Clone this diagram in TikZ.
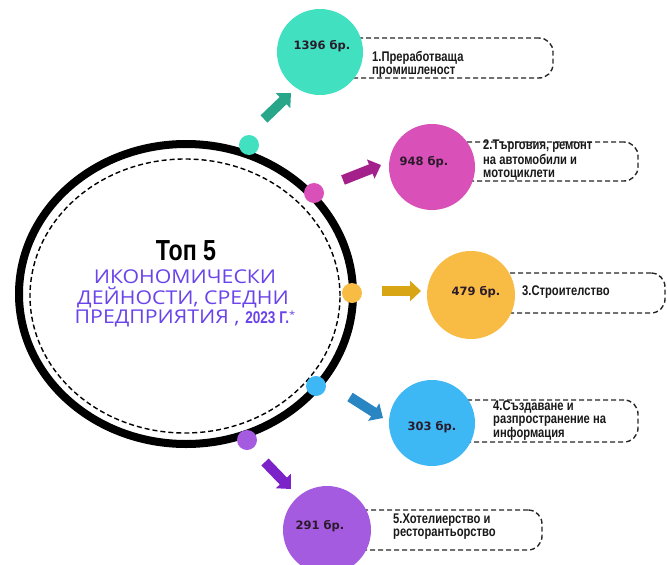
\documentclass[tikz,border=0pt]{standalone}
\usepackage{fontspec}
\setmainfont{Fira Sans}
\newfontfamily\condfont[FakeStretch=0.8]{Liberation Sans}
\newfontfamily\numfont{DejaVu Sans}
\newfontfamily\violetfont[FakeStretch=1.12]{Open Sans}
\usetikzlibrary{arrows.meta,shapes.geometric}
\definecolor{cteal}{HTML}{40E0C0}
\definecolor{cmag}{HTML}{D850B8}
\definecolor{corange}{HTML}{F8BC45}
\definecolor{cblue}{HTML}{3DB8F5}
\definecolor{cpurple}{HTML}{A55BE0}
\definecolor{ateal}{HTML}{27A689}
\definecolor{amag}{HTML}{A4218B}
\definecolor{aorange}{HTML}{D8A514}
\definecolor{ablue}{HTML}{2A86C2}
\definecolor{apurple}{HTML}{7B22C8}
\definecolor{cviolet}{HTML}{6A44EA}
\definecolor{numtext}{HTML}{2A1A2A}
\begin{document}
\begin{tikzpicture}[x=1pt,y=-1pt,
  bigc/.style={circle,minimum size=86pt,inner sep=0pt},
  dotc/.style={circle,minimum size=20pt,inner sep=0pt},
  dashbox/.style={draw=black!85,line width=1.4pt,dash pattern=on 5pt off 3pt,rounded corners=14pt,minimum height=40pt,inner sep=0pt},
  blockarrow/.style={line width=10pt,-{Triangle[width=20pt,length=11pt]}},
  numlabel/.style={font=\numfont\bfseries\fontsize{11.5}{14}\selectfont,text=numtext,inner sep=0pt},
  boxlabel/.style={font=\condfont\bfseries\fontsize{14}{13}\selectfont,align=left,anchor=west,inner sep=0pt,text=black!90},
  violetline/.style={font=\violetfont\fontsize{19}{20}\selectfont,text=cviolet,inner sep=0pt}
]
\useasboundingbox (0,0) rectangle (667,565);
\fill[white] (0,0) rectangle (667,565);
% central ring
\node[draw,line width=8pt,ellipse,minimum width=334pt,minimum height=300pt,inner sep=0pt] (ring) at (186,294) {};
\node[draw,line width=1.4pt,dash pattern=on 5pt off 3pt,ellipse,minimum width=310pt,minimum height=274pt,inner sep=0pt] (inner) at (185,296) {};
% dashed boxes
\node[dashbox,minimum width=233pt] (box1) at (436.5,58) {};
\node[dashbox,minimum width=206pt,minimum height=39pt] (box2) at (535,161.5) {};
\node[dashbox,minimum width=195pt] (box3) at (567.5,293) {};
\node[dashbox,minimum width=206pt,minimum height=42pt] (box4) at (535,421) {};
\node[dashbox,minimum width=215pt] (box5) at (434.5,530) {};
% big circles
\node[bigc,fill=cteal] (c1) at (320,52) {};
\node[bigc,fill=cmag] (c2) at (432,167) {};
\node[bigc,fill=corange,minimum size=88pt] (c3) at (471,295) {};
\node[bigc,fill=cblue] (c4) at (432,423) {};
\node[bigc,fill=cpurple,minimum size=88pt] (c5) at (327,530) {};
% dots on ring
\node[dotc,fill=cteal] (d1) at (249,145) {};
\node[dotc,fill=cmag] (d2) at (314,193) {};
\node[dotc,fill=corange] (d3) at (352,293) {};
\node[dotc,fill=cblue] (d4) at (316,386) {};
\node[dotc,fill=cpurple] (d5) at (247,440) {};
% arrows
\coordinate (a1s) at (264,119);
\coordinate (a1e) at (291,93);
\coordinate (a2s) at (343,180);
\coordinate (a2e) at (381,165);
\coordinate (a3s) at (382,291);
\coordinate (a3e) at (421,291);
\coordinate (a4s) at (350,397);
\coordinate (a4e) at (383,418);
\coordinate (a5s) at (265,462);
\coordinate (a5e) at (291,489);
\draw[blockarrow,draw=ateal,fill=ateal] (a1s) -- (a1e);
\draw[blockarrow,draw=amag,fill=amag] (a2s) -- (a2e);
\draw[blockarrow,draw=aorange,fill=aorange] (a3s) -- (a3e);
\draw[blockarrow,draw=ablue,fill=ablue] (a4s) -- (a4e);
\draw[blockarrow,draw=apurple,fill=apurple] (a5s) -- (a5e);
% numbers
\node[numlabel] (n1) at (322,46) {1396 бр.};
\node[numlabel] (n2) at (424,162) {948 бр.};
\node[numlabel] (n3) at (476,292) {479 бр.};
\node[numlabel] (n4) at (432,427) {303 бр.};
\node[numlabel] (n5) at (320,526) {291 бр.};
% labels
\node[boxlabel] (t1) at (372,64) {1.Преработваща\\ промишленост};
\node[boxlabel] (t2) at (483,160) {2.Търговия, ремонт\\на автомобили и\\мотоциклети};
\node[boxlabel] (t3) at (522,292) {3.Строителство};
\node[boxlabel] (t4) at (493,421) {4.Създаване и\\разпространение на\\информация};
\node[boxlabel] (t5) at (393,527) {5.Хотелиерство и\\ресторантьорство};
% title
\node[font=\condfont\bfseries\fontsize{29}{30}\selectfont,inner sep=0pt] (top) at (186,251) {Топ 5};
\node[violetline] (v1) at (185,277) {ИКОНОМИЧЕСКИ};
\node[violetline] (v2) at (183,298) {ДЕЙНОСТИ, СРЕДНИ};
\node[violetline] (v3) at (185,318) {ПРЕДПРИЯТИЯ , {\condfont\bfseries\fontsize{17}{18}\selectfont 2023 Г.}\raisebox{5pt}{\fontsize{10}{10}\selectfont*}};
\end{tikzpicture}
\end{document}
